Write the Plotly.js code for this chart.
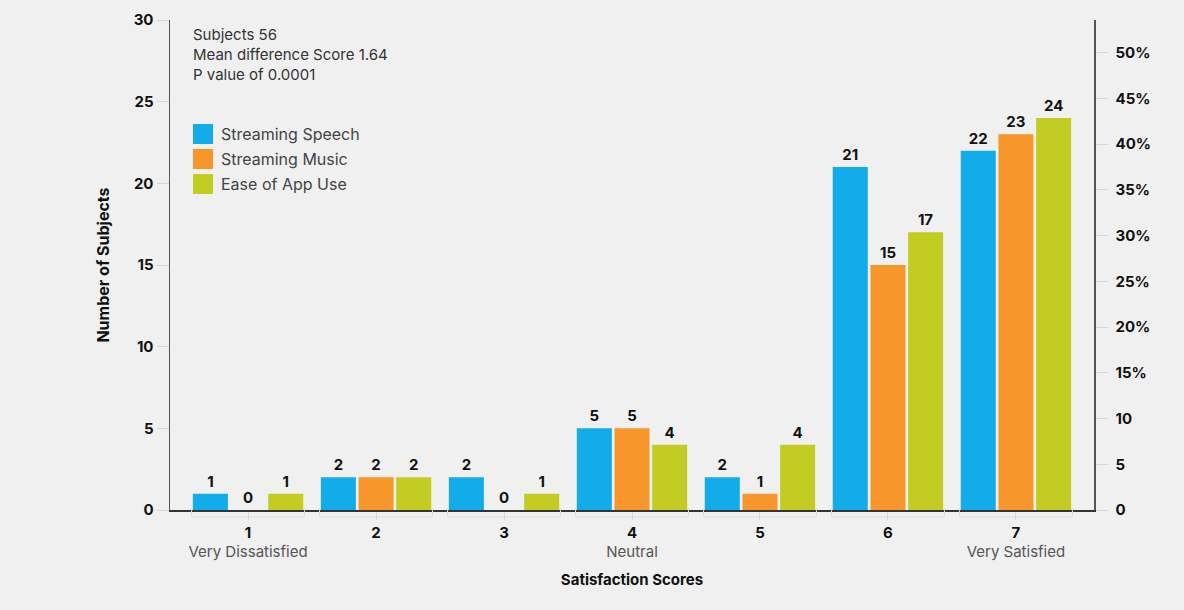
<!DOCTYPE html>
<html>
<head>
<meta charset="utf-8">
<script src="https://cdn.plot.ly/plotly-3.0.1.min.js"></script>
<style>
html,body{margin:0;padding:0;background:#f0f0f0;}
#chart{width:1184px;height:610px;}
</style>
</head>
<body>
<div id="chart"></div>
<script>
const scores = [1, 2, 3, 4, 5, 6, 7];
const scoreDescriptors = ["Very Dissatisfied", "", "", "Neutral", "", "", "Very Satisfied"];
const seriesNames = ["Streaming Speech", "Streaming Music", "Ease of App Use"];
const streamingSpeech = [1, 2, 2, 5, 2, 21, 22];
const streamingMusic = [0, 2, 0, 5, 1, 15, 23];
const easeOfAppUse = [1, 2, 1, 4, 4, 17, 24];
const seriesColors = ["#13acea", "#f6962b", "#c3cc23"];
const subjects = 56;
const statsLines = ["Subjects 56", "Mean difference Score 1.64", "P value of 0.0001"];
const leftTicks = [0, 5, 10, 15, 20, 25, 30];
const rightTicks = [0, 5, 10, 15, 20, 25, 30, 35, 40, 45, 50];
const rightTickText = ["0", "5", "10", "15%", "20%", "25%", "30%", "35%", "40%", "45%", "50%"];

const F = "Inter, 'Open Sans', sans-serif";
const allSeries = [streamingSpeech, streamingMusic, easeOfAppUse];

const traces = allSeries.map((vals, i) => ({
  type: "bar",
  name: seriesNames[i],
  x: scores,
  y: vals,
  marker: {color: seriesColors[i]},
  text: vals.map(String),
  textposition: "outside",
  constraintext: "none",
  cliponaxis: false,
  textfont: {family: F, size: 15, color: "#111", weight: 700},
  showlegend: false,
  hoverinfo: "skip"
}));
// invisible trace to activate right axis
traces.push({type: "scatter", x: [scores[0]], y: [0], yaxis: "y2", mode: "markers",
  marker: {opacity: 0}, showlegend: false, hoverinfo: "skip"});

const ticktext = scores.map((s, i) => "<b>" + s + "</b>" + (scoreDescriptors[i] ? "<br><span style='color:#555;font-weight:400'>" + scoreDescriptors[i] + "</span>" : "<br> "));

// plot area geometry (px) for paper-coordinate decorations
const W = 1184, H = 610, ML = 170, MR = 90, MT = 20, MB = 100;
const PW = W - ML - MR, PH = H - MT - MB;
const px = x => (x - ML) / PW;
const py = y => (H - MB - y) / PH;

const annotations = statsLines.map((t, i) => ({
  xref: "paper", yref: "paper", x: px(191), y: py(34 + 20 * i), xanchor: "left", yanchor: "middle",
  text: t, showarrow: false, font: {family: F, size: 15, color: "#333"}
}));
const shapes = [];
seriesNames.forEach((name, i) => {
  const top = 124 + 25 * i;
  shapes.push({type: "rect", xref: "paper", yref: "paper", x0: px(193), x1: px(213),
    y0: py(top), y1: py(top + 20), fillcolor: seriesColors[i], line: {width: 0}});
  annotations.push({xref: "paper", yref: "paper", x: px(219), y: py(top + 10), xanchor: "left", yanchor: "middle",
    text: name, showarrow: false, font: {family: F, size: 16, color: "#444"}});
});

const layout = {
  width: W, height: H,
  paper_bgcolor: "#f0f0f0", plot_bgcolor: "#f0f0f0",
  margin: {l: ML, r: MR, t: MT, b: MB},
  barmode: "group",
  bargap: 0.117,
  bargroupgap: 0.07,
  showlegend: false,
  xaxis: {
    range: [0.39, 7.61], tickmode: "array", tickvals: scores, ticktext: ticktext,
    showline: true, linecolor: "#333", linewidth: 1.5, showgrid: false, zeroline: false,
    ticks: "outside", ticklen: 8, tickcolor: "#d6d6d6",
    tickfont: {family: F, size: 15, color: "#111"},
    title: {text: "<b>Satisfaction Scores</b>", font: {family: F, size: 15, color: "#111"}, standoff: 14}
  },
  yaxis: {
    range: [0, 30], tickmode: "array", tickvals: leftTicks,
    showline: true, linecolor: "#555", linewidth: 1.5, showgrid: false, zeroline: false,
    ticks: "outside", ticklen: 12, tickcolor: "#d6d6d6",
    tickfont: {family: F, size: 15, color: "#111", weight: 700},
    title: {text: "<b>Number of Subjects</b>", font: {family: F, size: 16, color: "#111"}, standoff: 20}
  },
  yaxis2: {
    overlaying: "y", side: "right", range: [0, 3000 / subjects],
    tickmode: "array", tickvals: rightTicks, ticktext: rightTickText,
    showline: true, linecolor: "#555", linewidth: 1.5, showgrid: false, zeroline: false,
    ticks: "outside", ticklen: 12, tickcolor: "#d6d6d6", ticklabelstandoff: 5,
    tickfont: {family: F, size: 15, color: "#111", weight: 700}
  },
  annotations: annotations,
  shapes: shapes
};

// faint brackets under each group
const half = (1 - layout.bargap) / 2;
scores.forEach(s => {
  layout.shapes.push({type: "path", xref: "x", yref: "paper",
    path: `M ${s - half} 0 L ${s - half} -0.014 L ${s + half} -0.014 L ${s + half} 0`,
    line: {color: "#dcdcdc", width: 1}});
});

Plotly.newPlot("chart", traces, layout, {displayModeBar: false, staticPlot: true});
</script>
</body>
</html>
